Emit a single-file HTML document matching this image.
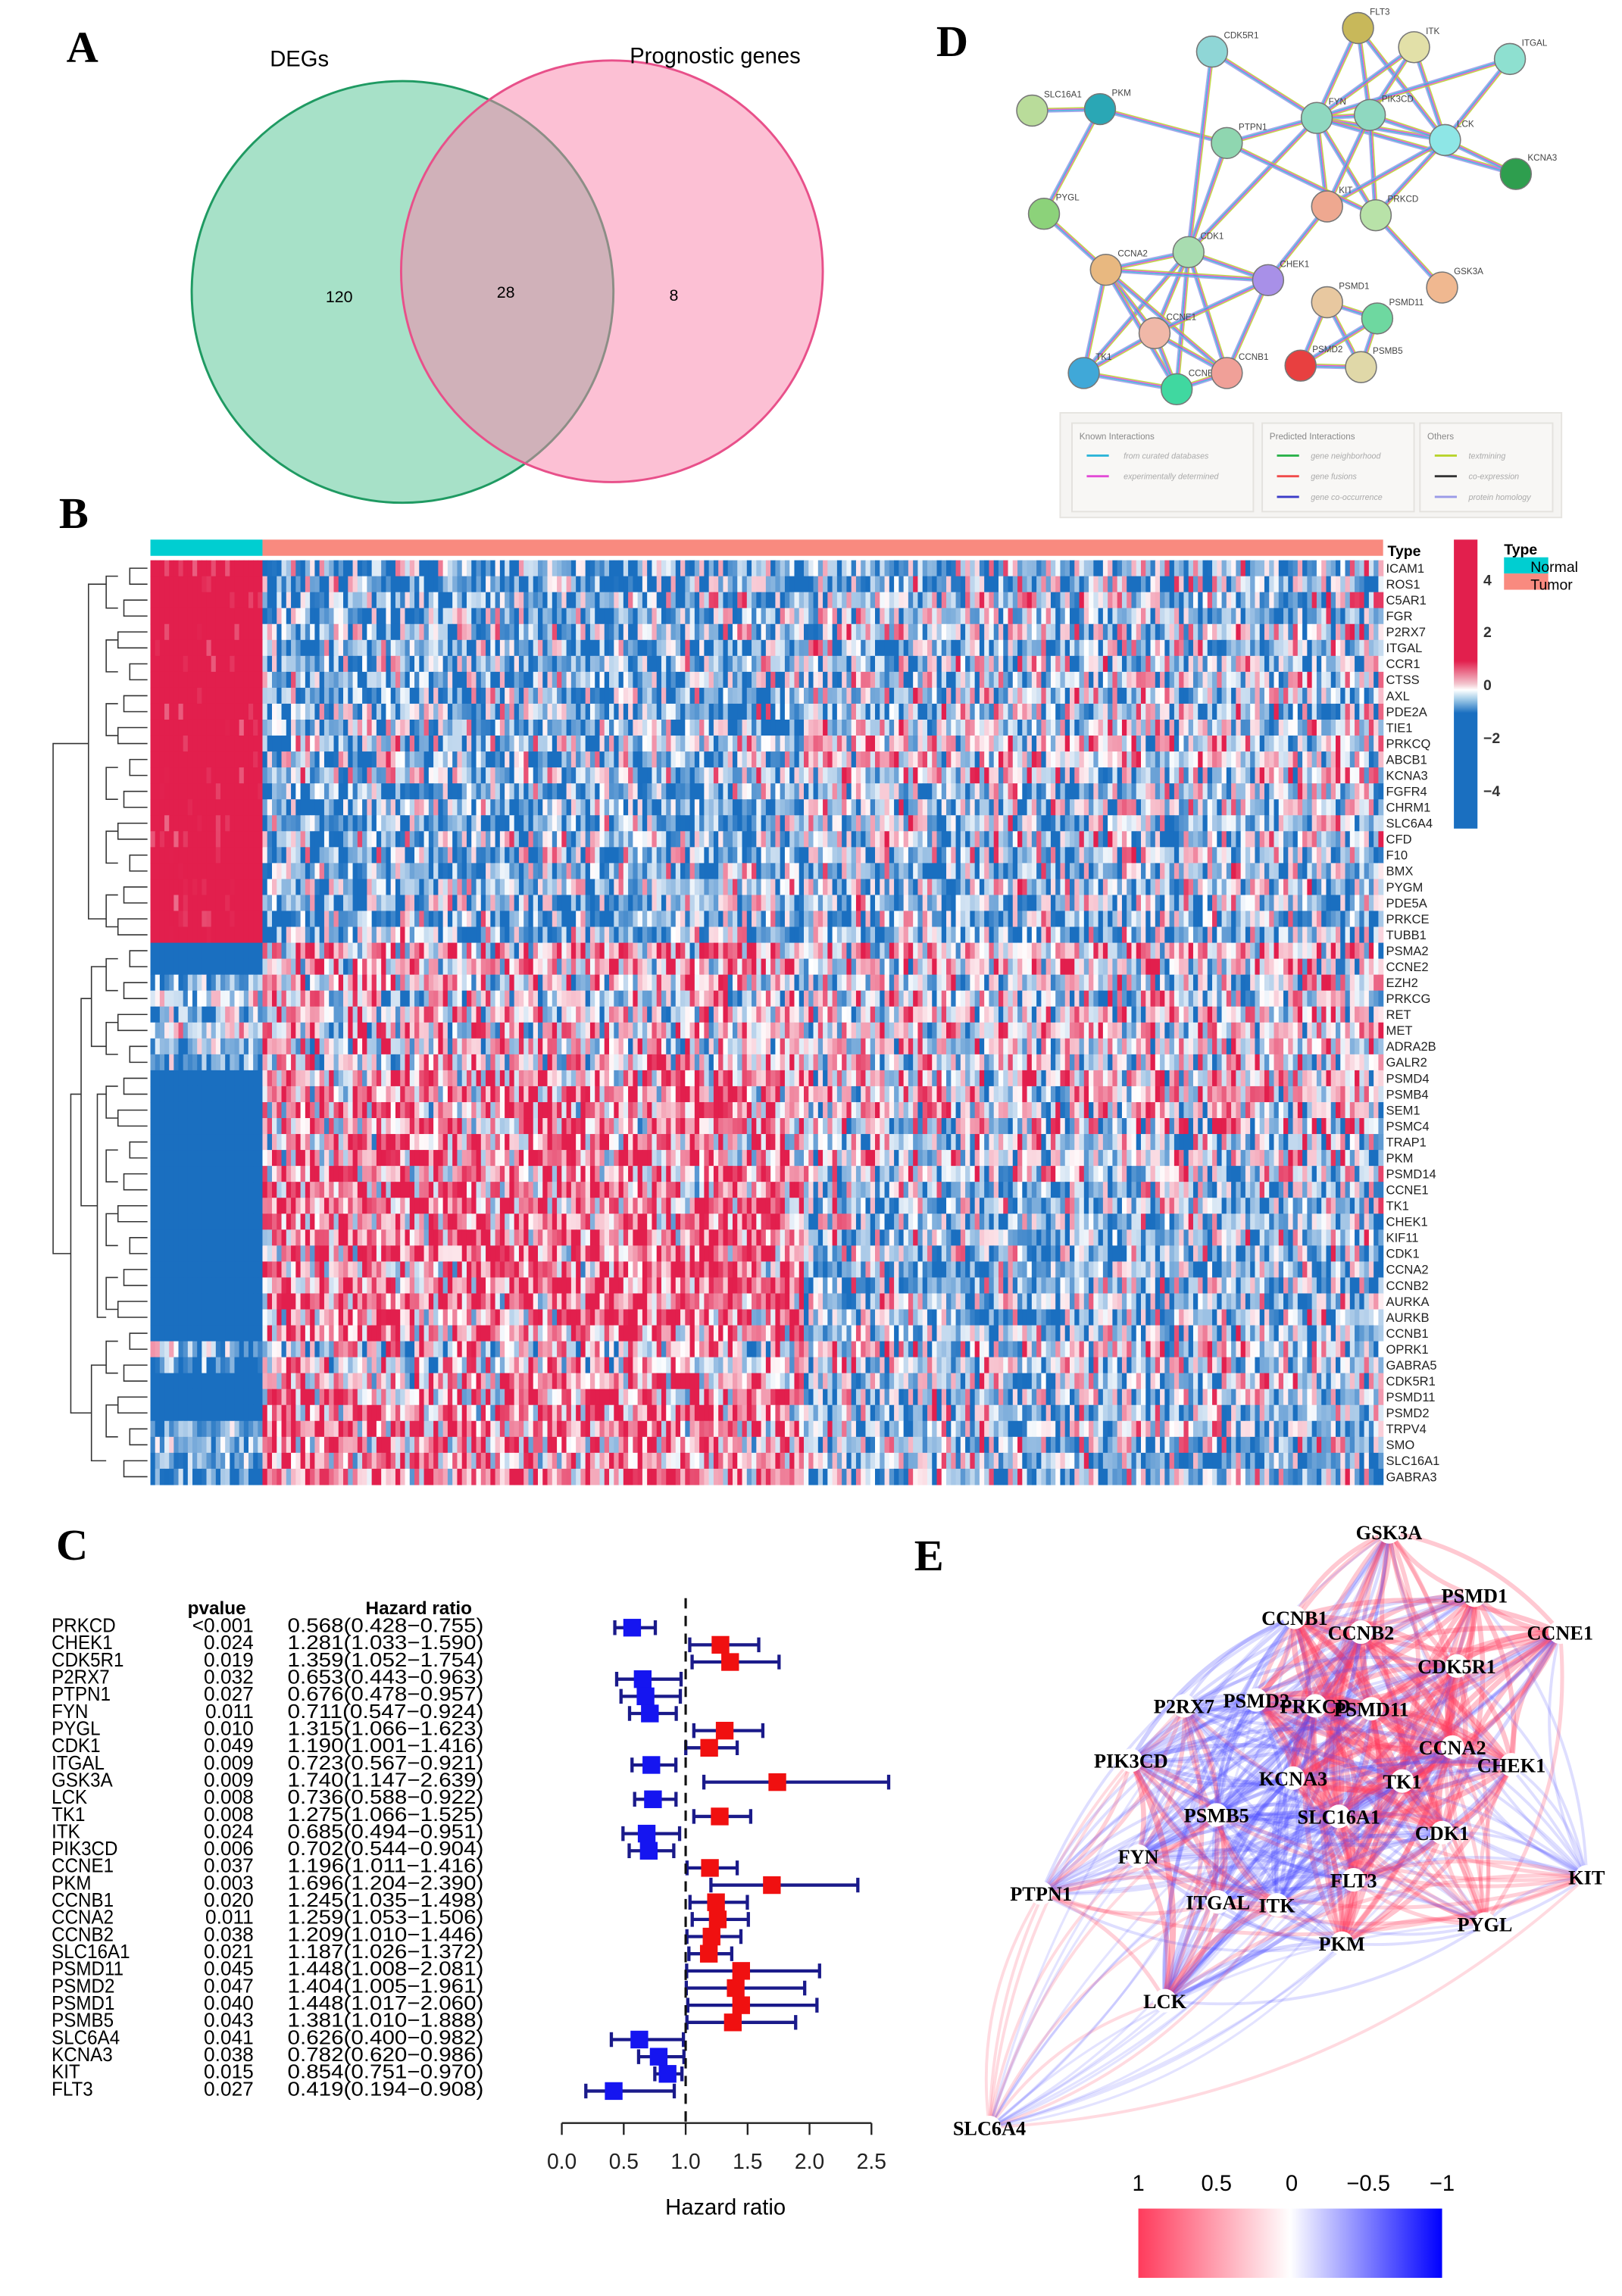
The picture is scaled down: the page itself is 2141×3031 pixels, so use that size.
<!DOCTYPE html>
<html><head><meta charset="utf-8"><style>
html,body{margin:0;padding:0;background:#fff}
svg{display:block}
text{font-family:"Liberation Sans",sans-serif}
.serif{font-family:"Liberation Serif",serif;font-weight:bold}
</style></head><body>
<svg id="fig" xmlns="http://www.w3.org/2000/svg" width="2141" height="3031" viewBox="0 0 1100 1557.3">
<rect width="1100" height="1557.3" fill="#fff"/>
<!-- Panel A -->
<g>
<text class="serif" x="45" y="42" font-size="30">A</text>
<circle cx="273" cy="198" r="143" fill="rgba(80,195,145,0.5)" stroke="#1f9a62" stroke-width="1.5"/>
<circle cx="415" cy="184" r="143" fill="rgba(250,130,170,0.5)" stroke="#e8508a" stroke-width="1.5"/>
<text x="203" y="45" font-size="15" text-anchor="middle">DEGs</text>
<text x="485" y="43" font-size="15" text-anchor="middle">Prognostic genes</text>
<text x="230" y="205" font-size="11" text-anchor="middle">120</text>
<text x="343" y="202" font-size="11" text-anchor="middle">28</text>
<text x="457" y="204" font-size="11" text-anchor="middle">8</text>
</g>
<!-- Panel D -->
<g>
<text class="serif" x="635" y="38" font-size="30">D</text>
<g id="dEdges"></g><g id="dNodes"></g>
<g>
<rect x="719" y="280" width="340" height="71" fill="#f5f4f2" stroke="#e6e4e0"/>
<rect x="727" y="287" width="123" height="60" fill="#f8f7f5" stroke="#e4e2de"/>
<rect x="856" y="287" width="103" height="60" fill="#f8f7f5" stroke="#e4e2de"/>
<rect x="963" y="287" width="90" height="60" fill="#f8f7f5" stroke="#e4e2de"/>
<text x="732" y="298" font-size="6" fill="#888">Known Interactions</text>
<text x="861" y="298" font-size="6" fill="#888">Predicted Interactions</text>
<text x="968" y="298" font-size="6" fill="#888">Others</text>
<g font-size="5.5" fill="#aaa" font-style="italic">
<line x1="737" y1="309" x2="752" y2="309" stroke="#2cb5d8" stroke-width="1.5"/><text x="762" y="311">from curated databases</text>
<line x1="737" y1="323" x2="752" y2="323" stroke="#e24ad6" stroke-width="1.5"/><text x="762" y="325">experimentally determined</text>
<line x1="866" y1="309" x2="881" y2="309" stroke="#2bb24a" stroke-width="1.5"/><text x="889" y="311">gene neighborhood</text>
<line x1="866" y1="323" x2="881" y2="323" stroke="#f04a4a" stroke-width="1.5"/><text x="889" y="325">gene fusions</text>
<line x1="866" y1="337" x2="881" y2="337" stroke="#3b3bc8" stroke-width="1.5"/><text x="889" y="339">gene co-occurrence</text>
<line x1="973" y1="309" x2="988" y2="309" stroke="#b8d42c" stroke-width="1.5"/><text x="996" y="311">textmining</text>
<line x1="973" y1="323" x2="988" y2="323" stroke="#333" stroke-width="1.5"/><text x="996" y="325">co-expression</text>
<line x1="973" y1="337" x2="988" y2="337" stroke="#9a9ae8" stroke-width="1.5"/><text x="996" y="339">protein homology</text>
</g></g>
</g>
<!-- Panel B -->
<g>
<text class="serif" x="40" y="358" font-size="30">B</text>
<rect x="102" y="366" width="76" height="11" fill="#00ced1"/>
<rect x="178" y="366" width="760" height="11" fill="#f98a7f"/>
<g id="hm"></g><g id="dendro" stroke="#333" stroke-width="0.8" fill="none"></g><g id="hmLabels"></g>
<text x="941" y="377" font-size="10" font-weight="bold">Type</text>
<defs><linearGradient id="cbB" x1="0" y1="0" x2="0" y2="1">
<stop offset="0" stop-color="#e21f4d"/><stop offset="0.42" stop-color="#e21f4d"/><stop offset="0.5" stop-color="#f3c6cf"/><stop offset="0.52" stop-color="#ffffff"/><stop offset="0.55" stop-color="#a9d0ea"/><stop offset="0.6" stop-color="#1a6fc0"/><stop offset="1" stop-color="#1a6fc0"/></linearGradient>
<linearGradient id="cbE" x1="0" y1="0" x2="1" y2="0"><stop offset="0" stop-color="#ff3b5c"/><stop offset="0.5" stop-color="#ffffff"/><stop offset="1" stop-color="#0000ff"/></linearGradient></defs>
<rect x="986" y="366" width="16" height="196" fill="url(#cbB)"/>
<g font-size="10" font-weight="bold" fill="#333">
<text x="1006" y="397">4</text><text x="1006" y="432">2</text><text x="1006" y="468">0</text><text x="1006" y="504">−2</text><text x="1006" y="540">−4</text></g>
<g>
<text x="1020" y="376" font-size="10" font-weight="bold">Type</text>
<rect x="1020" y="378" width="30" height="11" fill="#00ced1"/><rect x="1020" y="389" width="30" height="11" fill="#f98a7f"/>
<text x="1038" y="388" font-size="10">Normal</text><text x="1038" y="400" font-size="10">Tumor</text></g>
</g>
<!-- Panel C -->
<g>
<text class="serif" x="38" y="1058" font-size="30">C</text>
<text x="147" y="1095" font-size="12.5" font-weight="bold" text-anchor="middle">pvalue</text>
<text x="284" y="1095" font-size="12.5" font-weight="bold" text-anchor="middle">Hazard ratio</text>
<g id="forestText"></g><g id="forestMarks"></g>
<g id="forestAxis" stroke="#222" stroke-width="1.2"></g>
<text x="492" y="1502" font-size="15" text-anchor="middle">Hazard ratio</text>
</g>
<!-- Panel E -->
<g>
<text class="serif" x="620" y="1065" font-size="30">E</text>
<g id="eEdges" fill="none"></g><g id="eNodes"></g>
<g font-size="15" text-anchor="middle">
<text x="772" y="1486">1</text><text x="825" y="1486">0.5</text><text x="876" y="1486">0</text><text x="928" y="1486">−0.5</text><text x="978" y="1486">−1</text></g>
<rect x="772" y="1498" width="206" height="47" fill="url(#cbE)"/>
</g>
</svg>
<script>
const NS="http://www.w3.org/2000/svg";
function mk(tag,attrs,parent){const e=document.createElementNS(NS,tag);for(const k in attrs)e.setAttribute(k,attrs[k]);parent.appendChild(e);return e;}

// ---------- Forest plot data ----------
const fGenes=["PRKCD","CHEK1","CDK5R1","P2RX7","PTPN1","FYN","PYGL","CDK1","ITGAL","GSK3A","LCK","TK1","ITK","PIK3CD","CCNE1","PKM","CCNB1","CCNA2","CCNB2","SLC16A1","PSMD11","PSMD2","PSMD1","PSMB5","SLC6A4","KCNA3","KIT","FLT3"];
const fP=["<0.001","0.024","0.019","0.032","0.027","0.011","0.010","0.049","0.009","0.009","0.008","0.008","0.024","0.006","0.037","0.003","0.020","0.011","0.038","0.021","0.045","0.047","0.040","0.043","0.041","0.038","0.015","0.027"];
const fHR=[0.568,1.281,1.359,0.653,0.676,0.711,1.315,1.190,0.723,1.740,0.736,1.275,0.685,0.702,1.196,1.696,1.245,1.259,1.209,1.187,1.448,1.404,1.448,1.381,0.626,0.782,0.854,0.419];
const fLo=[0.428,1.033,1.052,0.443,0.478,0.547,1.066,1.001,0.567,1.147,0.588,1.066,0.494,0.544,1.011,1.204,1.035,1.053,1.010,1.026,1.008,1.005,1.017,1.010,0.400,0.620,0.751,0.194];
const fHi=[0.755,1.590,1.754,0.963,0.957,0.924,1.623,1.416,0.921,2.639,0.922,1.525,0.951,0.904,1.416,2.390,1.498,1.506,1.446,1.372,2.081,1.961,2.060,1.888,0.982,0.986,0.970,0.908];
const fTicks=[0,0.5,1,1.5,2,2.5];
const fx=v=>381+v*84, fy=i=>1104+i*11.64;
const ft=document.getElementById('forestText'),fm=document.getElementById('forestMarks'),fa=document.getElementById('forestAxis');
const fmt=v=>v.toFixed(3);
fGenes.forEach((g,i)=>{
  const y=fy(i)+3;
  let t=mk('text',{x:35,y:y,'font-size':13.5,transform:`translate(35 0) scale(0.92 1) translate(-35 0)`},ft);t.textContent=g;
  
  
  t=mk('text',{x:172,y:y,'font-size':13.5,'text-anchor':'end'},ft);t.textContent=fP[i];
  
  
  t=mk('text',{x:195,y:y,'font-size':13.5,textLength:133,lengthAdjust:'spacingAndGlyphs'},ft);t.textContent=fmt(fHR[i])+"("+fmt(fLo[i])+"−"+fmt(fHi[i])+")";
  
  
  const col=fHR[i]>1?'#f01010':'#1515f0';
  const yc=fy(i);
  const l=mk('path',{d:`M${fx(fLo[i])},${yc}H${fx(fHi[i])}M${fx(fLo[i])},${yc-5}V${yc+5}M${fx(fHi[i])},${yc-5}V${yc+5}`,stroke:'#1a1a8a','stroke-width':2.2,fill:'none'},fm);
  
  
  const r=mk('rect',{x:fx(fHR[i])-6,y:yc-6,width:12,height:12,fill:col},fm);
  
  
});
const dl=mk('line',{x1:fx(1),x2:fx(1),y1:1084,y2:1440,stroke:'#111','stroke-width':1.6,'stroke-dasharray':'7,5'},fa);


const ax=mk('line',{x1:fx(0),x2:fx(2.5),y1:1440,y2:1440},fa);


fTicks.forEach(v=>{mk('line',{x1:fx(v),x2:fx(v),y1:1440,y2:1448},fa);
  const t=mk('text',{x:fx(v),y:1471,'font-size':14.5,'text-anchor':'middle',stroke:'none',fill:'#222'},fa);t.textContent=v.toFixed(1);
  
  });

// ---------- Heatmap ----------
const hGenes=["ICAM1","ROS1","C5AR1","FGR","P2RX7","ITGAL","CCR1","CTSS","AXL","PDE2A","TIE1","PRKCQ","ABCB1","KCNA3","FGFR4","CHRM1","SLC6A4","CFD","F10","BMX","PYGM","PDE5A","PRKCE","TUBB1","PSMA2","CCNE2","EZH2","PRKCG","RET","MET","ADRA2B","GALR2","PSMD4","PSMB4","SEM1","PSMC4","TRAP1","PKM","PSMD14","CCNE1","TK1","CHEK1","KIF11","CDK1","CCNA2","CCNB2","AURKA","AURKB","CCNB1","OPRK1","GABRA5","CDK5R1","PSMD11","PSMD2","TRPV4","SMO","SLC16A1","GABRA3"];
const hNormal=[3,3,3,3,3,3,3,3,3,3,3,3,3,3,3,3,3,3,3,3,3,3,3,3,-4,-4,-1.5,-0.5,-1,-0.5,-1,-1.5,-4,-4,-4,-4,-4,-4,-4,-4,-4,-4,-4,-4,-4,-4,-4,-4,-4,-0.6,-2,-4,-4,-4,-1.5,-1.2,-1.5,-2];
const hTumorL=[-1.4,-1.5,-1.1,-1.3,-1,-1.3,-1.1,-1.1,-1.3,-1,-1.1,-0.9,-1.1,-0.8,-1.3,-1.3,-1.2,-0.9,-1.1,-1.1,-1.1,-1.2,-1.3,-1.2,0.8,0.7,0.3,0,0.3,0.4,0.3,0.2,1,1,1.1,1.1,1.1,1.2,1.2,1.3,1.3,1.3,1.3,1.3,1.3,1.3,1.3,1.3,1.2,0,0.5,1.1,1.2,1.3,1.3,1.2,1.3,1.2];
const hTumorR=[-0.9,-1.1,-0.6,-0.8,-0.5,-0.8,-0.6,-0.6,-0.8,-0.5,-0.5,-0.1,0,0,-0.7,-0.7,-0.6,-0.5,-0.6,-0.8,-0.7,-0.8,-0.9,-0.9,0.4,0.2,0,-0.2,0.2,0.2,0,0,0.2,0.2,0.1,0.1,-0.2,-0.2,-0.4,-0.7,-0.9,-0.9,-0.9,-0.9,-0.9,-0.9,-0.9,-0.9,-0.8,-0.2,-0.5,-0.7,-0.8,-0.8,-0.8,-0.8,-0.9,-0.9];
const NCOL_N=24,NCOL_T=236,hx0=102,hx1=938,hy0=380,hy1=1007;
const splitFrac=0.483;
function hash(a,b){let h=(a*374761393+b*668265263)^0x5bd1e995;h=(h^(h>>>13))*1274126177;h=h^(h>>>16);return ((h>>>0)%10000)/10000;}
function colFor(v){v=Math.max(-4,Math.min(4,v));
  const R=[226,31,77],W=[255,255,255],B=[26,111,192];
  let t,c1,c2; if(v>=0){t=Math.min(1,v/2.2);c1=W;c2=R;}else{t=Math.min(1,-v/2.2);c1=W;c2=B;}
  return `rgb(${Math.round(c1[0]+(c2[0]-c1[0])*t)},${Math.round(c1[1]+(c2[1]-c1[1])*t)},${Math.round(c1[2]+(c2[2]-c1[2])*t)})`;}
const hm=document.getElementById('hm');
const rowH=(hy1-hy0)/hGenes.length;
const wN=(178-hx0)/NCOL_N,wT=(hx1-178)/NCOL_T;
hGenes.forEach((g,r)=>{
  for(let c=0;c<NCOL_N+NCOL_T;c++){
    let x,w,mean,spread;
    if(c<NCOL_N){x=hx0+c*wN;w=wN;mean=hNormal[r];spread=Math.abs(mean)>=3?1.6:2.2;}
    else{const k=c-NCOL_N;x=178+k*wT;w=wT;mean=(k/NCOL_T<splitFrac)?hTumorL[r]:hTumorR[r];spread=3.4;}
    const n=(hash(r,c)+hash(c+7,r+3)-1)*spread;
    const rc=mk('rect',{x:x.toFixed(2),y:(hy0+r*rowH).toFixed(2),width:(w+0.3).toFixed(2),height:(rowH+0.3).toFixed(2),fill:colFor(mean+n)},hm);
    
    
  }
  const t=mk('text',{x:940,y:(hy0+r*rowH+rowH/2+3).toFixed(2),'font-size':8.5,fill:'#222'},document.getElementById('hmLabels'));
  t.textContent=g;
  
  
});
const dg=document.getElementById('dendro');
const ry=i=>hy0+i*rowH+rowH/2;
for(let i=0;i<58;i+=2){ if(i+1<58) mk('path',{d:`M100,${ry(i)}H${88-(i%6)*2}V${ry(i+1)}H100`},dg);}
for(let i=0;i<58;i+=4){ if(i+3<58) mk('path',{d:`M80,${(ry(i)+ry(i+1))/2}H72V${(ry(i+2)+ry(i+3))/2}H80`},dg);}
mk('path',{d:`M72,${ry(1)}H60V${ry(22)}H72`},dg);
mk('path',{d:`M72,${ry(25)}H62V${ry(30)}H72`},dg);
mk('path',{d:`M72,${ry(33)}H66V${ry(47)}H72`},dg);
mk('path',{d:`M72,${ry(50)}H62V${ry(56)}H72`},dg);
mk('path',{d:`M62,${ry(27)}H55V${ry(40)}H66`},dg);
mk('path',{d:`M55,${ry(33)}H48V${ry(53)}H62`},dg);
mk('path',{d:`M60,${ry(11)}H36V${ry(43)}H48`},dg);

// ---------- Panel D STRING network ----------
const dNames=["SLC16A1","PKM","CDK5R1","FLT3","ITK","ITGAL","FYN","PIK3CD","LCK","KCNA3","PTPN1","KIT","PRKCD","PYGL","CDK1","CCNA2","CHEK1","GSK3A","PSMD1","PSMD11","CCNE1","PSMD2","PSMB5","TK1","CCNB2","CCNB1"];
const dX=[700,746,822,921,959,1024,893,929,980,1028,832,900,933,708,806,750,860,978,900,934,783,882,923,735,798,832];
const dY=[75,74,35,19,32,40,80,78,95,118,97,140,146,145,171,183,190,195,205,216,226,248,249,253,264,253];
const dCol=["#b9dc9a","#2aa7b5","#8fd6d6","#c8b85a","#e2e0a8","#8ee0d0","#8fd8c0","#8fd8c0","#8ee6e6","#2e9e4e","#8fd6b0","#eea890","#b8e2a8","#8cd27a","#a8dcb0","#e8b880","#a890e8","#f0b890","#e8c8a0","#6ed8a0","#f0b8a8","#e84040","#e0d8a8","#40a8d8","#40d8a0","#f0a098"];
const dEdges=[[0,1],[1,13],[1,10],[2,6],[2,14],[3,6],[3,7],[3,8],[4,6],[4,7],[4,8],[5,6],[5,8],[6,7],[6,8],[6,10],[6,11],[6,12],[6,14],[6,9],[7,8],[7,12],[7,11],[8,12],[8,9],[8,11],[10,14],[10,12],[11,16],[12,17],[13,15],[14,15],[14,16],[14,20],[14,23],[14,24],[14,25],[15,16],[15,20],[15,23],[15,24],[15,25],[16,20],[16,25],[20,23],[20,24],[20,25],[23,24],[24,25],[18,19],[18,21],[18,22],[19,21],[19,22],[21,22]];
const eCols=["#b8d42c","#e24ad6","#2cb5d8","#9a9ae8"];
const dE=document.getElementById('dEdges'),dN=document.getElementById('dNodes');
dEdges.forEach(([a,b])=>{
  const dx=dX[b]-dX[a],dy=dY[b]-dY[a],L=Math.hypot(dx,dy),nx=-dy/L,ny=dx/L;
  eCols.forEach((c,k)=>{const o=(k-1.5)*0.8;
    const l=mk('line',{x1:dX[a]+nx*o,y1:dY[a]+ny*o,x2:dX[b]+nx*o,y2:dY[b]+ny*o,stroke:c,'stroke-width':0.9,opacity:0.85},dE);
    
    });
});
dNames.forEach((n,i)=>{
  const c=mk('circle',{cx:dX[i],cy:dY[i],r:10.5,fill:dCol[i],stroke:'#777','stroke-width':0.8},dN);
  
  
  const t=mk('text',{x:dX[i]+8,y:dY[i]-9,'font-size':6,fill:'#444'},dN);t.textContent=n;
  
  
});

// ---------- Panel E correlation network ----------
const eNames=["GSK3A","PSMD1","CCNE1","CCNB1","CCNB2","CDK5R1","P2RX7","PSMD2","PRKCD","PSMD11","CCNA2","CHEK1","PIK3CD","KCNA3","TK1","SLC16A1","PSMB5","CDK1","FYN","FLT3","ITGAL","ITK","PTPN1","KIT","PYGL","PKM","LCK","SLC6A4"];
const eX=[942,1000,1058,878,923,988,803,852,892,930,985,1025,767,877,951,908,825,978,772,918,826,866,706,1076,1007,910,790,671];
const eY=[1039,1082,1107,1097,1107,1130,1157,1153,1157,1159,1185,1197,1194,1206,1208,1232,1231,1243,1259,1275,1290,1292,1284,1273,1305,1318,1357,1443];
const eGroup=[1,1,1,1,1,1,-1,1,1,1,1,1,-1,1,1,1,-1,1,-1,1,-1,-1,-1,-1,1,1,-1,-1];
const eStrength=[0.5,0.6,0.6,0.8,0.9,0.6,0.5,0.7,0.7,0.8,0.9,0.7,0.8,0.7,0.8,0.7,0.6,0.8,0.6,0.6,0.6,0.7,0.4,0.4,0.4,0.6,0.8,0.25];
const eE=document.getElementById('eEdges');
for(let i=0;i<eNames.length;i++)for(let j=i+1;j<eNames.length;j++){
  let r=eGroup[i]*eGroup[j]*Math.min(eStrength[i],eStrength[j]);
  if(r<0) r*=0.6;
  const dx=eX[j]-eX[i],dy=eY[j]-eY[i],L=Math.hypot(dx,dy);
  const bend=L*0.18*((i+j)%2?1:-1);
  const mx=(eX[i]+eX[j])/2-dy/L*bend,my=(eY[i]+eY[j])/2+dx/L*bend;
  const p=mk('path',{d:`M${eX[i]},${eY[i]}Q${mx},${my} ${eX[j]},${eY[j]}`,stroke:r>0?'#ff3b5c':'#4a4aff','stroke-width':1+Math.abs(r)*4,opacity:0.1+Math.abs(r)*0.35},eE);
  
  
}
const eN=document.getElementById('eNodes');
eNames.forEach((n,i)=>{
  const c=mk('circle',{cx:eX[i],cy:eY[i],r:8,fill:'#fff'},eN);
  
  
  const t=mk('text',{x:eX[i],y:eY[i]+5,'font-size':13.5,'font-weight':'bold','text-anchor':'middle',style:'font-family:"Liberation Serif",serif'},eN);t.textContent=n;
  
  
});
</script>
</body></html>
